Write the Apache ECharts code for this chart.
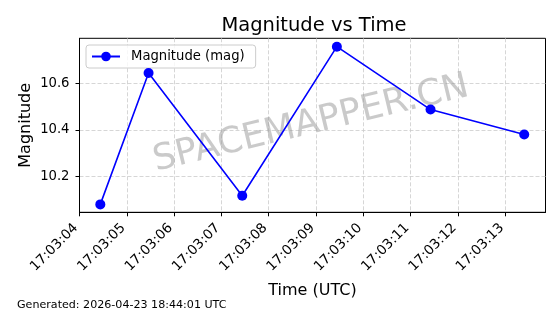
<!DOCTYPE html>
<html>
<head>
<meta charset="utf-8">
<script src="https://cdn.jsdelivr.net/npm/echarts@6/dist/echarts.min.js"></script>
<style>
html,body{margin:0;padding:0;background:#fff;}
#chart{width:560px;height:314px;}
</style>
</head>
<body>
<div id="chart"></div>
<script>
// ---- data ----
var times = ['17:03:04.44', '17:03:05.46', '17:03:07.44', '17:03:09.44', '17:03:11.42', '17:03:13.40'];
var magnitudes = [10.080, 10.644, 10.117, 10.757, 10.487, 10.380];
var xTickSeconds = [4, 5, 6, 7, 8, 9, 10, 11, 12, 13];
var xTickLabels = ['17:03:04', '17:03:05', '17:03:06', '17:03:07', '17:03:08', '17:03:09', '17:03:10', '17:03:11', '17:03:12', '17:03:13'];
var yTickValues = [10.2, 10.4, 10.6];
var yTickLabels = ['10.2', '10.4', '10.6'];
var seriesName = 'Magnitude (mag)';
var titleText = 'Magnitude vs Time';
var footerText = 'Generated: 2026-04-23 18:44:01 UTC';
var watermarkText = 'SPACEMAPPER.CN';

function toSec(t) { // seconds after 17:03:00
  var p = t.split(':');
  return (parseInt(p[0], 10) - 17) * 3600 + (parseInt(p[1], 10) - 3) * 60 + parseFloat(p[2]);
}
var points = times.map(function (t, i) { return [toSec(t), magnitudes[i]]; });

var FONT = 'DejaVu Sans';
var chart = echarts.init(document.getElementById('chart'), null, {renderer: 'canvas'});
chart.setOption({
  animation: false,
  backgroundColor: '#ffffff',
  textStyle: {fontFamily: FONT},
  title: {
    text: titleText,
    left: 309, top: 11, textAlign: 'center',
    textStyle: {fontFamily: FONT, fontSize: 19.5, fontWeight: 'normal', color: '#000'}
  },
  legend: {
    data: [seriesName],
    left: 86, top: 45,
    orient: 'vertical',
    padding: [5, 11, 5, 5],
    itemWidth: 28, itemHeight: 12,
    borderColor: '#cccccc', borderWidth: 1, borderRadius: 3,
    backgroundColor: 'rgba(255,255,255,0.8)',
    textStyle: {fontFamily: FONT, fontSize: 13.2, color: '#000', padding: [0, 0, 0, 6]}
  },
  grid: {
    left: 79.5, right: 14.5, top: 38.3, bottom: 101.7,
    show: true, borderColor: '#000', borderWidth: 1, backgroundColor: 'transparent'
  },
  xAxis: {
    type: 'value', min: 4, max: 13.85,
    name: 'Time (UTC)', nameLocation: 'middle', nameGap: 71, nameMoveOverlap: false,
    nameTextStyle: {fontFamily: FONT, fontSize: 16, color: '#000'},
    axisLine: {show: true, lineStyle: {color: '#000', width: 1}},
    axisTick: {show: true, inside: false, length: 4, lineStyle: {color: '#000', width: 1}, customValues: xTickSeconds},
    axisLabel: {
      rotate: 45, margin: 10, padding: [0, 5, 0, 0], fontFamily: FONT, fontSize: 13.6, color: '#000',
      customValues: xTickSeconds,
      formatter: function (v) { var i = xTickSeconds.indexOf(Math.round(v)); return i >= 0 ? xTickLabels[i] : ''; }
    },
    splitLine: {show: true, lineStyle: {color: '#cccccc', width: 0.8, type: [4, 2]}}
  },
  yAxis: {
    type: 'value', min: 10.046, max: 10.793,
    name: 'Magnitude', nameLocation: 'middle', nameGap: 46, nameRotate: 90, nameMoveOverlap: false,
    nameTextStyle: {fontFamily: FONT, fontSize: 16, color: '#000'},
    axisLine: {show: true, lineStyle: {color: '#000', width: 1}},
    axisTick: {show: true, inside: false, length: 4, lineStyle: {color: '#000', width: 1}, customValues: yTickValues},
    axisLabel: {
      margin: 10, fontFamily: FONT, fontSize: 13.2, color: '#000',
      customValues: yTickValues,
      formatter: function (v) { var i = yTickValues.findIndex(function (t) { return Math.abs(t - v) < 1e-6; }); return i >= 0 ? yTickLabels[i] : ''; }
    },
    splitLine: {show: true, lineStyle: {color: '#cccccc', width: 0.8, type: [4, 2]}}
  },
  graphic: [
    {
      type: 'text', x: 311, y: 124, rotation: 13.5 * Math.PI / 180, z: 1,
      style: {text: watermarkText, fontFamily: FONT, fontSize: 36, fill: 'rgba(150,150,150,0.5)', align: 'center', verticalAlign: 'middle'}
    },
    {
      type: 'text', x: 17, y: 305,
      style: {text: footerText, fontFamily: FONT, fontSize: 11.1, fill: '#000', align: 'left', verticalAlign: 'middle'}
    }
  ],
  series: [{
    name: seriesName,
    type: 'line',
    data: points,
    z: 5,
    symbol: 'circle', symbolSize: 10,
    lineStyle: {color: '#0000ff', width: 1.6},
    itemStyle: {color: '#0000ff'}
  }]
});
</script>
</body>
</html>
